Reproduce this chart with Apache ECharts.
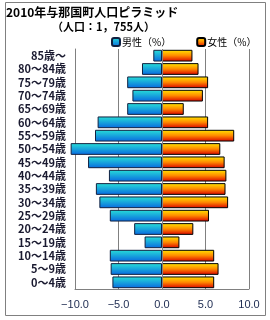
<!DOCTYPE html>
<html><head><meta charset="utf-8">
<script src="https://cdn.jsdelivr.net/npm/echarts@6/dist/echarts.min.js"></script>
<style>html,body{margin:0;padding:0;background:#fff}#c{width:270px;height:320px}</style>
</head><body><div id="c"></div>
<script>
var categories = ["0～4歳","5～9歳","10～14歳","15～19歳","20～24歳","25～29歳","30～34歳","35～39歳","40～44歳","45～49歳","50～54歳","55～59歳","60～64歳","65～69歳","70～74歳","75～79歳","80～84歳","85歳～"];
var male = [-5.7,-5.9,-6.0,-2.0,-3.2,-6.0,-7.2,-7.6,-6.1,-8.5,-10.5,-7.7,-7.4,-4.0,-3.4,-4.0,-2.3,-1.0];
var female = [6.0,6.5,6.0,2.0,3.6,5.4,7.6,7.3,7.4,7.2,6.7,8.3,5.3,2.5,4.7,5.3,4.2,3.5];
var xTicks = [-10,-5,0,5,10];

var chart = echarts.init(document.getElementById('c'), null, {renderer:'canvas'});
var jp = '"Noto Sans CJK JP", sans-serif';
var maleGrad = new echarts.graphic.LinearGradient(0,0,0,1,[{offset:0,color:'#28e0d8'},{offset:1,color:'#0868e0'}]);
var femGrad = new echarts.graphic.LinearGradient(0,0,0,1,[{offset:0,color:'#ffe800'},{offset:0.5,color:'#ff8800'},{offset:1,color:'#d80000'}]);
chart.setOption({
  animation:false,
  title:[
    {text:'2010年与那国町人口ピラミッド', left:6, top:6, padding:0, textStyle:{fontFamily:jp, fontSize:12, fontWeight:'bold', color:'#000'}},
    {text:'（人口：1，755人）', left:52, top:21, padding:0, textStyle:{fontFamily:jp, fontSize:11, fontWeight:'bold', color:'#000'}}
  ],
  legend:{left:111, top:37, width:160, padding:0, orient:'horizontal', itemWidth:8, itemHeight:8, itemGap:25,
    textStyle:{fontFamily:jp, fontSize:10, color:'#000', padding:[0,0,0,-3]},
    data:['男性（%）','女性（%）']},
  graphic:[{type:'rect', shape:{x:5.5, y:2.5, width:260, height:313}, style:{fill:null, stroke:'#808080', lineWidth:1}, silent:true}],
  grid:{left:75, right:21, top:49, bottom:31, containLabel:false},
  xAxis:{type:'value', min:-10, max:10, interval:5,
    axisLine:{show:true, lineStyle:{color:'#808080'}}, axisTick:{show:false},
    splitLine:{show:true, lineStyle:{color:'#808080'}},
    axisLabel:{margin:10, fontFamily:'"Liberation Sans", Arial, sans-serif', fontSize:11, color:'#1c2a50',
      formatter:function(v){return (v<0?'−':'')+Math.abs(v).toFixed(1);}}},
  yAxis:{type:'category', data:categories,
    axisLine:{show:true, onZero:false, lineStyle:{color:'#808080'}}, axisTick:{show:false},
    axisLabel:{margin:9, fontFamily:jp, fontSize:11, fontWeight:'bold', color:'#1a1a30', interval:0}},
  series:[
    {name:'男性（%）', type:'bar', data:male, barGap:'-100%', barCategoryGap:'12%', clip:false,
      itemStyle:{color:maleGrad, borderColor:'#102040', borderWidth:1}},
    {name:'女性（%）', type:'bar', data:female, barCategoryGap:'12%', clip:false,
      itemStyle:{color:femGrad, borderColor:'#000', borderWidth:1},
      markLine:{silent:true, symbol:'none', label:{show:false}, lineStyle:{color:'#808080', type:'solid', width:1},
        data:[{xAxis:0}]}}
  ]
});
</script></body></html>
